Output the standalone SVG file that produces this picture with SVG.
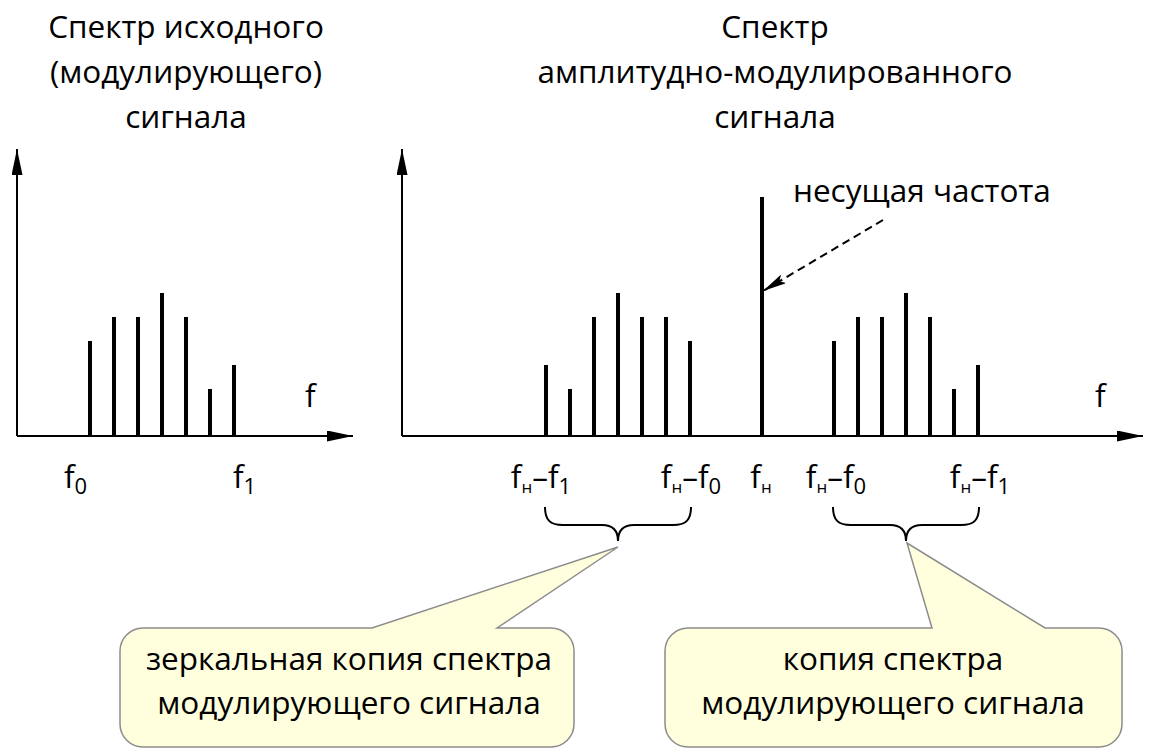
<svg xmlns="http://www.w3.org/2000/svg" width="1152" height="753" viewBox="0 0 1152 753">
<style>
text{font-family:"Open Sans","Noto Sans",sans-serif;fill:#000}
.t{font-size:31.5px}
.c{text-anchor:middle}
.sub{font-size:17px}
.subd{font-size:22px}
.axis{stroke:#000;stroke-width:2;fill:none}
.bar{stroke:#000;stroke-width:4}
.brace{stroke:#000;stroke-width:2;fill:none}
.callout{fill:#FFFFDD;stroke:#8C8C8C;stroke-width:1.5}
</style>
<defs>
<marker id="axisArrow" markerUnits="userSpaceOnUse" viewBox="0 0 26 11" refX="26" refY="5.5" markerWidth="26" markerHeight="11" orient="auto">
<path d="M0,0 L26,5.5 L0,11 Z" fill="#000"/>
</marker>
<marker id="dashArrow" markerUnits="userSpaceOnUse" viewBox="0 0 24 10" refX="24" refY="5" markerWidth="24" markerHeight="10" orient="auto">
<path d="M0,0 L24,5 L0,10 L5,5 Z" fill="#000"/>
</marker>
</defs>
<rect width="1152" height="753" fill="#fff"/>

<g id="title-source">
<text class="t c" x="186" y="38">Спектр исходного</text>
<text class="t c" x="186" y="83">(модулирующего)</text>
<text class="t c" x="186" y="128">сигнала</text>
</g>
<g id="title-am">
<text class="t c" x="775" y="38">Спектр</text>
<text class="t c" x="775" y="83">амплитудно-модулированного</text>
<text class="t c" x="775" y="128">сигнала</text>
</g>

<g id="chart-source">
<line class="axis" x1="17" y1="436" x2="17" y2="149" marker-end="url(#axisArrow)"/>
<line class="axis" x1="17" y1="436" x2="353" y2="436" marker-end="url(#axisArrow)"/>
<line class="bar" x1="90" y1="436" x2="90" y2="341"/>
<line class="bar" x1="114" y1="436" x2="114" y2="317"/>
<line class="bar" x1="138" y1="436" x2="138" y2="317"/>
<line class="bar" x1="162" y1="436" x2="162" y2="293"/>
<line class="bar" x1="186" y1="436" x2="186" y2="317"/>
<line class="bar" x1="210" y1="436" x2="210" y2="389"/>
<line class="bar" x1="234" y1="436" x2="234" y2="365"/>
<text class="t" x="305" y="407">f</text>
<text class="t" x="64" y="488">f<tspan class="subd" dy="6">0</tspan></text>
<text class="t" x="233" y="488">f<tspan class="subd" dy="6">1</tspan></text>
</g>

<g id="chart-am">
<line class="axis" x1="402" y1="436" x2="402" y2="149" marker-end="url(#axisArrow)"/>
<line class="axis" x1="402" y1="436" x2="1143" y2="436" marker-end="url(#axisArrow)"/>
<line class="bar" x1="546" y1="436" x2="546" y2="365"/>
<line class="bar" x1="570" y1="436" x2="570" y2="389"/>
<line class="bar" x1="594" y1="436" x2="594" y2="317"/>
<line class="bar" x1="618" y1="436" x2="618" y2="293"/>
<line class="bar" x1="642" y1="436" x2="642" y2="317"/>
<line class="bar" x1="666" y1="436" x2="666" y2="317"/>
<line class="bar" x1="690" y1="436" x2="690" y2="341"/>
<line class="bar" x1="762" y1="436" x2="762" y2="197"/>
<line class="bar" x1="834" y1="436" x2="834" y2="341"/>
<line class="bar" x1="858" y1="436" x2="858" y2="317"/>
<line class="bar" x1="882" y1="436" x2="882" y2="317"/>
<line class="bar" x1="906" y1="436" x2="906" y2="293"/>
<line class="bar" x1="930" y1="436" x2="930" y2="317"/>
<line class="bar" x1="954" y1="436" x2="954" y2="389"/>
<line class="bar" x1="978" y1="436" x2="978" y2="365"/>
<text class="t" x="1095" y="407">f</text>
<text class="t" x="793" y="202">несущая частота</text>
</g>

<g id="freq-labels">
<text class="t c" x="541" y="488">f<tspan class="sub" dy="5">н</tspan><tspan dy="-5">–f</tspan><tspan class="subd" dy="6">1</tspan></text>
<text class="t c" x="691" y="488">f<tspan class="sub" dy="5">н</tspan><tspan dy="-5">–f</tspan><tspan class="subd" dy="6">0</tspan></text>
<text class="t c" x="761" y="488">f<tspan class="sub" dy="5">н</tspan></text>
<text class="t c" x="836" y="488">f<tspan class="sub" dy="5">н</tspan><tspan dy="-5">–f</tspan><tspan class="subd" dy="6">0</tspan></text>
<text class="t c" x="980" y="488">f<tspan class="sub" dy="5">н</tspan><tspan dy="-5">–f</tspan><tspan class="subd" dy="6">1</tspan></text>
</g>

<g id="braces">
<path class="brace" d="M545,507 C545,520 550,525 563,525 L602,525 C613,525 618,530 618,541 C618,530 623,525 634,525 L673,525 C686,525 691,520 691,507"/>
<path class="brace" d="M833,507 C833,520 838,525 851,525 L890,525 C901,525 906,530 906,541 C906,530 911,525 922,525 L961,525 C974,525 979,520 979,507"/>
</g>

<g id="connectors">
<line x1="883" y1="220" x2="763" y2="291" stroke="#000" stroke-width="2" stroke-dasharray="8,5" marker-end="url(#dashArrow)"/>
</g>

<g id="callout-mirror">
<path class="callout" d="M143,628 L372,628 L618,547 L497,628 L551,628 A23,23 0 0 1 574,651 L574,724 A23,23 0 0 1 551,747 L143,747 A23,23 0 0 1 120,724 L120,651 A23,23 0 0 1 143,628 Z"/>
<text class="t c" x="349" y="670">зеркальная копия спектра</text>
<text class="t c" x="349" y="714">модулирующего сигнала</text>
</g>
<g id="callout-copy">
<path class="callout" d="M688,628 L932,628 L907,543 L1045,628 L1099,628 A23,23 0 0 1 1122,651 L1122,724 A23,23 0 0 1 1099,747 L688,747 A23,23 0 0 1 665,724 L665,651 A23,23 0 0 1 688,628 Z"/>
<text class="t c" x="893" y="670">копия спектра</text>
<text class="t c" x="893" y="714">модулирующего сигнала</text>
</g>
</svg>
